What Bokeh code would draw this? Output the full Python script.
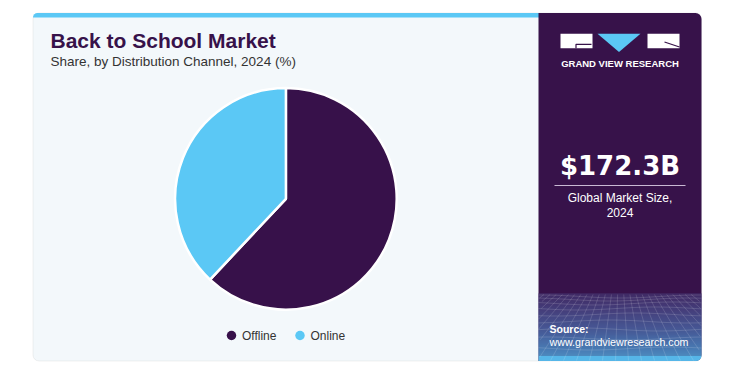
import numpy as np
from bokeh.plotting import figure
from bokeh.models import Range1d, BoxAnnotation, ColumnDataSource
from bokeh.core.properties import value
from bokeh.embed import file_html
from bokeh.resources import INLINE

# ---------------- data ----------------
categories = ["Offline", "Online"]
shares = [62.0, 38.0]
colors = ["#37114a", "#5bc8f5"]
title = "Back to School Market"
subtitle = "Share, by Distribution Channel, 2024 (%)"
market_size = "$172.3B"
market_label = ["Global Market Size,", "2024"]
source_lines = ["Source:", "www.grandviewresearch.com"]

# ---------------- figure ----------------
W, H = 722, 364
p = figure(width=W, height=H, x_range=Range1d(0, W), y_range=Range1d(0, H),
           output_backend="svg", toolbar_location=None, min_border=0,
           x_axis_location=None, y_axis_location=None)
p.grid.visible = False
p.outline_line_color = None
p.background_fill_color = "white"
p.border_fill_color = "white"


def X(sx):
    return sx


def Y(sy):
    return H - sy


FONT = value("Liberation Sans")
PURPLE = "#37124a"

# card
p.add_layout(BoxAnnotation(left=X(32.5), right=X(701), top=Y(12.5), bottom=Y(360.5),
                           fill_color="#f3f8fb", fill_alpha=1, line_color="#cfcfcf",
                           line_width=1, border_radius=6, level="underlay"))
# top blue bar
p.add_layout(BoxAnnotation(left=X(32.5), right=X(539), top=Y(12.5), bottom=Y(17),
                           fill_color="#5bc8f5", fill_alpha=1, line_color=None,
                           border_radius=(6, 0, 0, 0), level="underlay"))
# right panel
p.add_layout(BoxAnnotation(left=X(538), right=X(701), top=Y(12.5), bottom=Y(360.5),
                           fill_color=PURPLE, fill_alpha=1, line_color=None,
                           border_radius=(0, 6, 6, 0), level="underlay"))

# gradient at panel bottom
stops = [(293, (0x44, 0x33, 0x6f)), (310, (0x4a, 0x4f, 0x8c)), (330, (0x4c, 0x72, 0xb0)),
         (348, (0x4f, 0x9c, 0xd6)), (361, (0x58, 0xc0, 0xee))]
sys_ = np.arange(293, 355, 1.0)
cols = []
for sy in sys_:
    for (a, ca), (b, cb) in zip(stops[:-1], stops[1:]):
        if a <= sy <= b:
            t = (sy - a) / (b - a)
            c = [int(round(ca[i] + t * (cb[i] - ca[i]))) for i in range(3)]
            cols.append("#%02x%02x%02x" % tuple(c))
            break
p.quad(left=X(538), right=X(701), top=[Y(s) for s in sys_], bottom=[Y(s + 1.05) for s in sys_],
       fill_color=cols, line_color=None)
p.add_layout(BoxAnnotation(left=X(538), right=X(701), top=Y(355), bottom=Y(360.5),
                           fill_color="#56b6e8", fill_alpha=1, line_color=None,
                           border_radius=(0, 0, 6, 0), level="underlay"))

# mesh lines (decoration)
xs, ys = [], []
for sy in [296, 299, 303, 308, 314, 321, 329, 338, 348]:
    xx = np.linspace(538, 701, 30)
    yy = sy + 1.5 * np.sin((xx - 538) / 25.0 + sy / 7.0)
    xs.append(list(X(xx)))
    ys.append(list(Y(yy)))
vx, vy = 619, 235
for bx in np.arange(420, 830, 13):
    pts = []
    for sy in np.linspace(294, 360, 20):
        t = (sy - vy) / (360 - vy)
        sx = vx + t * (bx - vx)
        if 538 <= sx <= 701:
            pts.append((sx, sy))
    if len(pts) > 1:
        xs.append([X(a) for a, _ in pts])
        ys.append([Y(b) for _, b in pts])
p.multi_line(xs=xs, ys=ys, line_color="white", line_alpha=0.18, line_width=0.8)

# titles
p.text(x=[X(50)], y=[Y(39.8)], text=[title], text_font=FONT, text_font_size="21px",
       text_font_style="bold", text_color=PURPLE, text_baseline="middle")
p.text(x=[X(50)], y=[Y(61)], text=[subtitle], text_font=FONT, text_font_size="13.5px",
       text_color="#333333", text_baseline="middle")

# pie
frac = np.array(shares) / np.sum(shares)
ang = frac * 2 * np.pi
start = np.pi / 2 - np.concatenate([[0], np.cumsum(ang)[:-1]])
end = start - ang
src = ColumnDataSource(dict(cat=categories, start=start, end=end, color=colors))
p.wedge(x=X(285.4), y=Y(198.3), radius=110.8, start_angle="start", end_angle="end",
        direction="clock", fill_color="color", line_color="white", line_width=2.5, source=src)

# legend
leg_x = [231, 299.5]
p.scatter(x=[X(v) for v in leg_x], y=[Y(335)] * len(categories), size=9.5, marker="circle",
          fill_color=colors, line_color=None)
p.text(x=[X(v + 10.5) for v in leg_x], y=[Y(335)] * len(categories), text=categories,
       text_font=FONT, text_font_size="12px", text_color="#333333", text_baseline="middle")

# logo
p.quad(left=[X(560), X(647)], right=[X(592), X(679)], top=[Y(33.3)] * 2, bottom=[Y(47.7)] * 2,
       fill_color="white", line_color=None)
p.patch(x=[X(597), X(640), X(618.5)], y=[Y(33.3), Y(33.3), Y(51.5)], fill_color="#5bc8f5",
        line_color=None)
p.multi_line(xs=[[X(591), X(575.5), X(575.5)], [X(664), X(679)]],
             ys=[[Y(43.8), Y(43.8), Y(47.7)], [Y(41.5), Y(46.5)]],
             line_color=PURPLE, line_width=1.2)
p.text(x=[X(619.5)], y=[Y(63)], text=["GRAND VIEW RESEARCH"], text_font=FONT,
       text_font_size="9.5px", text_font_style="bold", text_color="white",
       text_align="center", text_baseline="middle")

# market size
p.text(x=[X(619.5)], y=[Y(165.5)], text=[market_size], text_font=value("DejaVu Sans"),
       text_font_size="26px", text_font_style="bold", text_color="white",
       text_align="center", text_baseline="middle")
p.segment(x0=[X(554)], y0=[Y(185)], x1=[X(685)], y1=[Y(185)], line_color="#c9b9d4", line_width=1)
p.text(x=[X(619.5)] * 2, y=[Y(197.5), Y(212)], text=market_label, text_font=FONT,
       text_font_size="12px", text_color="white", text_align="center",
       text_baseline="middle")

# source
p.text(x=[X(549)], y=[Y(328.5)], text=[source_lines[0]], text_font=FONT, text_font_size="10.5px",
       text_font_style="bold", text_color="white", text_baseline="middle")
p.text(x=[X(549)], y=[Y(341.5)], text=[source_lines[1]], text_font=FONT, text_font_size="10.7px",
       text_color="white", text_baseline="middle")

open("out.html", "w").write(file_html(p, INLINE))
